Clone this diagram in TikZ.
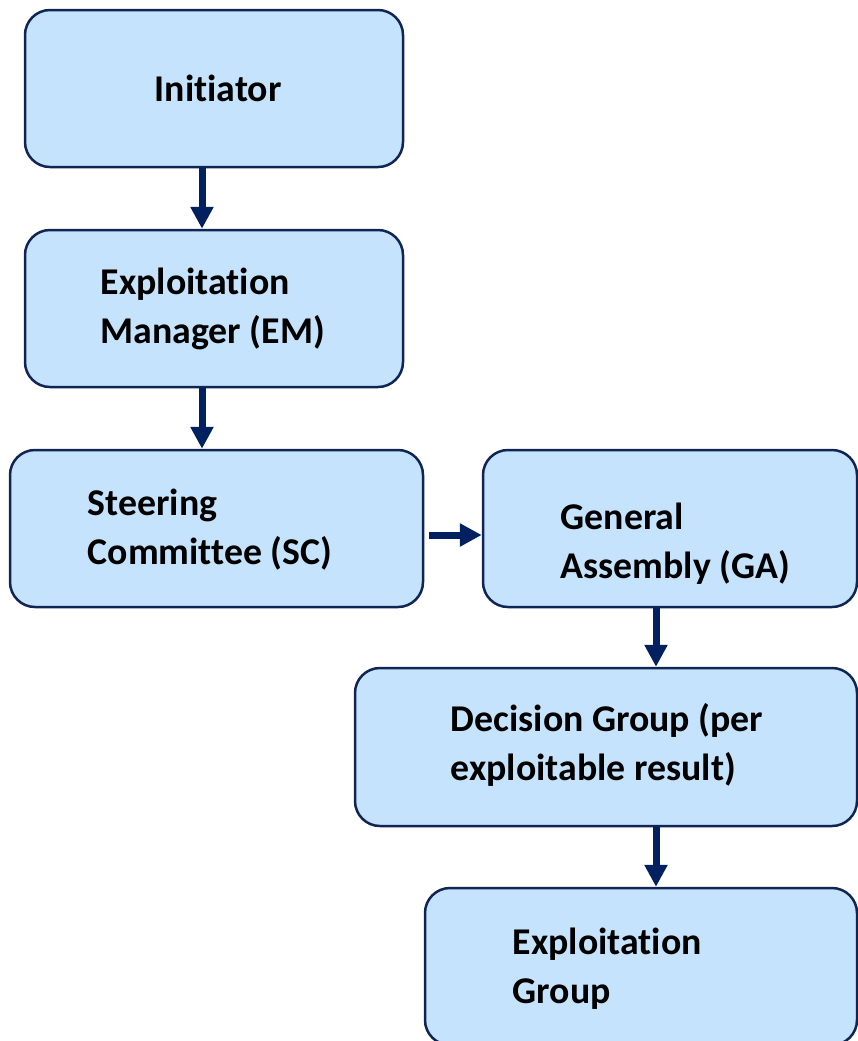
\documentclass[tikz,border=0pt]{standalone}
\usepackage{fontspec}
\setmainfont{Carlito}[Ligatures=NoCommon]
\usetikzlibrary{arrows.meta}
\definecolor{boxfill}{RGB}{197,227,252}
\definecolor{boxline}{RGB}{16,37,84}
\definecolor{flownavy}{RGB}{0,32,96}
\tikzset{every picture/.style={line width=0.75pt}}
\tikzset{
  stage/.style={draw=boxline, fill=boxfill, line width=1.25pt, rounded corners=12.5pt, inner sep=0pt, minimum height=78.5pt},
  stagetext/.style={anchor=base west, inner sep=0pt, align=left, font=\bfseries\fontsize{18.9}{24.5}\selectfont},
  flow/.style={draw=flownavy, line width=3.5pt, -{Triangle[length=11pt,width=11pt]}}
}
\begin{document}
\begin{tikzpicture}[x=0.5pt,y=0.5pt,yscale=-1,xscale=1]
\useasboundingbox (0,0) rectangle (858,1041);

%Shape: Rounded Rectangle [initiator]
\node [stage, minimum width=189pt] (init) at (214,88.5) {};
%Shape: Rounded Rectangle [exploitation manager]
\node [stage, minimum width=189pt] (em) at (214,308.5) {};
%Shape: Rounded Rectangle [steering committee]
\node [stage, minimum width=206.5pt] (sc) at (216.5,528.5) {};
%Shape: Rounded Rectangle [general assembly]
\node [stage, minimum width=187pt] (ga) at (670,528.5) {};
%Shape: Rounded Rectangle [decision group]
\node [stage, minimum width=251pt, minimum height=79pt] (dg) at (606,747) {};
%Shape: Rounded Rectangle [exploitation group]
\node [stage, minimum width=216pt] (eg) at (641,966.5) {};

%Arrows
\draw [flow] ([xshift=-6pt]init.south) -- ([xshift=-6pt]em.north);
\draw [flow] ([xshift=-6pt]em.south) -- ([xshift=-7.25pt]sc.north);
\draw [flow, shorten <=2.5pt] ([yshift=3.25pt]sc.east) -- ([yshift=3.25pt]sc.east -| ga.west);
\draw [flow] ([xshift=-7pt]ga.south) -- ([xshift=-7pt]ga.south |- dg.north);
\draw [flow] ([xshift=25pt]dg.south) -- ([xshift=25pt]dg.south |- eg.north);

% Text Node
\node [stagetext] (tinit) at (154,101) {Initiator};
% Text Node
\node [stagetext] (tem) at (100,343) {Exploitation\\Manager (EM)};
% Text Node
\node [stagetext] (tsc) at (87,564) {Steering\\Committee (SC)};
% Text Node
\node [stagetext] (tga) at (560,578) {General\\Assembly (GA)};
% Text Node
\node [stagetext] (tdg) at (450,780) {Decision Group (per\\exploitable result)};
% Text Node
\node [stagetext] (teg) at (512,1003) {Exploitation\\Group};

\end{tikzpicture}
\end{document}
